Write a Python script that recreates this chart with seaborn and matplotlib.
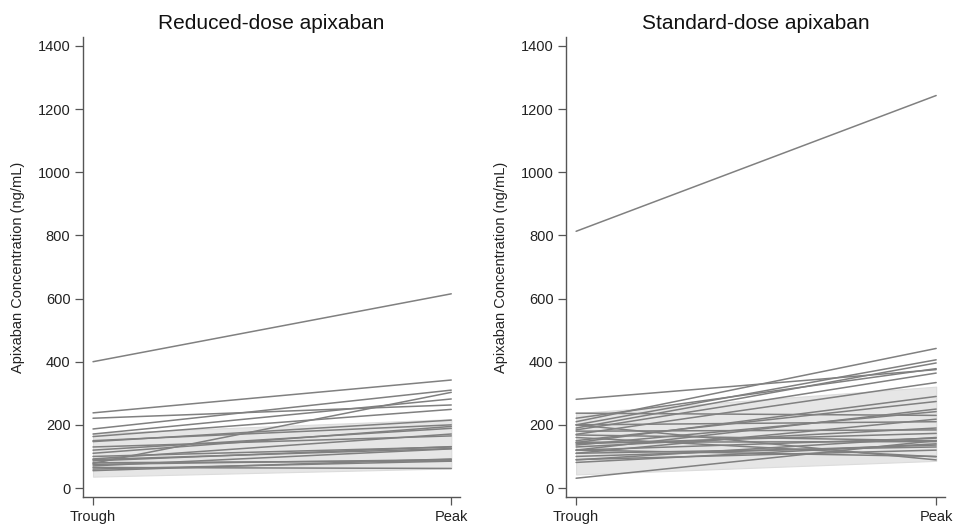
import numpy as np
import pandas as pd
import matplotlib
matplotlib.use("Agg")
import matplotlib.pyplot as plt
import seaborn as sns

sns.set_style("ticks")
plt.rcParams['font.family'] = ['Liberation Sans', 'DejaVu Sans']

timepoints = ["Trough", "Peak"]

# reduced-dose patients: trough and peak concentration (ng/mL)
reduced_trough = [400, 238, 221, 187, 171, 163, 147, 120, 92, 86, 78, 70,
                  55, 80, 100, 65, 75, 110, 150, 60, 90, 130]
reduced_peak = [615, 342, 263, 310, 282, 249, 215, 189, 171, 131, 303, 124,
                92, 86, 130, 62, 90, 195, 200, 85, 125, 165]

# standard-dose patients
standard_trough = [813, 281, 210, 200, 190, 184, 221, 170, 237, 144, 150, 120,
                   136, 110, 200, 180, 140, 120, 145, 100, 90, 160, 200, 31,
                   81, 89, 130, 110, 168, 120]
standard_peak = [1243, 375, 442, 406, 396, 364, 378, 334, 230, 290, 274, 250,
                 242, 218, 210, 184, 173, 158, 147, 136, 120, 99, 89, 150,
                 140, 160, 190, 130, 150, 100]

# shaded band (lower, upper) at trough and peak
reduced_band_lo = [36, 62]
reduced_band_hi = [173, 218]
standard_band_lo = [43, 86]
standard_band_hi = [237, 321]


def long_form(trough, peak):
    rows = []
    for i, (t, p) in enumerate(zip(trough, peak)):
        rows.append({"id": i, "x": 0, "conc": t})
        rows.append({"id": i, "x": 1, "conc": p})
    return pd.DataFrame(rows)


panels = [
    ("Reduced-dose apixaban", reduced_trough, reduced_peak, reduced_band_lo, reduced_band_hi),
    ("Standard-dose apixaban", standard_trough, standard_peak, standard_band_lo, standard_band_hi),
]

fig = plt.figure(figsize=(9.55, 5.27), dpi=100)
ax_rects = [[0.0869, 0.0569, 0.395, 0.873], [0.5927, 0.0569, 0.397, 0.873]]

for rect, (title, tr, pk, lo, hi) in zip(ax_rects, panels):
    ax = fig.add_axes(rect)
    ax.fill_between([0, 1], lo, hi, color="#e6e6e6", edgecolor="#dcdcdc", lw=0.8, zorder=1)
    df = long_form(tr, pk)
    sns.lineplot(data=df, x="x", y="conc", units="id", estimator=None,
                 color="#808080", lw=1.1, ax=ax, zorder=2)
    ax.set_xlim(-0.028, 1.025)
    ax.set_ylim(-28.5, 1428.5)
    ax.set_xticks([0, 1])
    ax.set_xticklabels(timepoints)
    ax.set_yticks(range(0, 1401, 200))
    ax.set_xlabel("")
    ax.set_ylabel("Apixaban Concentration (ng/mL)", fontsize=10.5, color="#222222",
                  labelpad=9)
    ax.set_title(title, fontsize=15, color="#111111", pad=6)
    for s in ["top", "right"]:
        ax.spines[s].set_visible(False)
    for s in ["left", "bottom"]:
        ax.spines[s].set_color("#555555")
        ax.spines[s].set_linewidth(1.0)
    ax.tick_params(axis="both", length=6, width=0.9, color="#555555",
                   labelsize=10.5, labelcolor="#222222", pad=3)

fig.savefig("out.png", dpi=100)
